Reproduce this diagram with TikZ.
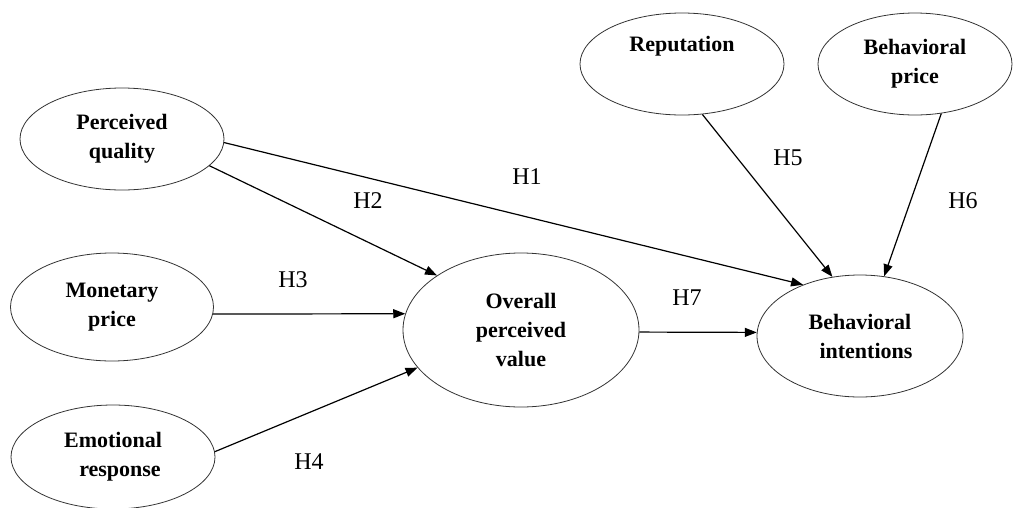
\documentclass[tikz,border=0pt]{standalone}
\usepackage{fontspec}
\setmainfont{Liberation Serif}
\usetikzlibrary{shapes.geometric,arrows.meta}
\begin{document}
\begin{tikzpicture}[x=1pt,y=-1pt,
  construct/.style={ellipse,draw=black!80,line width=0.8pt,inner sep=0pt,align=center,
    font=\fontsize{22}{29}\selectfont\bfseries},
  path/.style={line width=1.2pt,-{Triangle[length=12pt,width=9pt]}},
  hyp/.style={font=\fontsize{24}{26}\selectfont,inner sep=0pt}]
\useasboundingbox (0,0) rectangle (1013,507);
\node[construct,minimum width=204pt,minimum height=102pt] (pq) at (122,139) {Perceived\\quality};
\node[construct,minimum width=203pt,minimum height=108pt] (mp) at (112,307) {Monetary\\price};
\node[construct,minimum width=204pt,minimum height=104pt] (er) at (113,457) {Emotional\\\hspace*{14pt}response};
\node[construct,minimum width=236pt,minimum height=154pt] (opv) at (521,330) {Overall\\perceived\\value};
\node[construct,minimum width=206pt,minimum height=122pt] (bi) at (860,336) {Behavioral\\\hspace*{12pt}intentions};
\node[construct,minimum width=204pt,minimum height=102pt] (rep) at (682,64) {Reputation\\[3pt]\strut};
\node[construct,minimum width=194pt,minimum height=102pt] (bp) at (915,64) {Behavioral\\price};

\draw[path] (pq.-2) -- (bi.138);
\draw[path] (pq.-17) -- (opv.147);
\draw[path] (mp.-4) -- (opv.172);
\draw[path] (er.3) -- (opv.200);
\draw[path] (opv.-1) -- (bi.178);
\draw[path] (rep.-68) -- (bi.115);
\draw[path] (bp.-62) -- (bi.68);

\node[hyp] (h1) at (527,177) {H1};
\node[hyp] (h2) at (368,201) {H2};
\node[hyp] (h3) at (293,280) {H3};
\node[hyp] (h4) at (309,462) {H4};
\node[hyp] (h5) at (788,158) {H5};
\node[hyp] (h6) at (963,201) {H6};
\node[hyp] (h7) at (687,298) {H7};
\end{tikzpicture}
\end{document}
